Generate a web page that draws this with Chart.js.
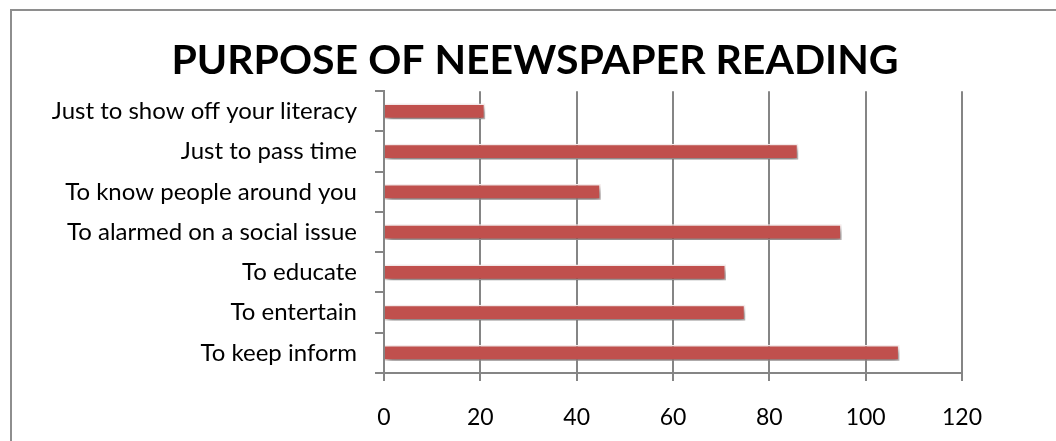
<!DOCTYPE html>
<html>
<head>
<meta charset="utf-8">
<script src="https://cdn.jsdelivr.net/npm/chart.js@4.4.1/dist/chart.umd.min.js"></script>
<style>
  body { margin: 0; background: #fff; }
  #wrap { position: relative; width: 1056px; height: 441px; overflow: hidden; }
  #frame { position: absolute; left: 10px; top: 9px; width: 1100px; height: 500px;
           border-left: 2px solid #8e8e8e; border-top: 2px solid #8e8e8e; }
  canvas { position: absolute; left: 0; top: 0; }
</style>
</head>
<body>
<div id="wrap">
  <div id="frame"></div>
  <canvas id="chart" width="1056" height="441"></canvas>
</div>
<script>
const purposes = [
  "Just to show off your literacy",
  "Just to pass time",
  "To know people around you",
  "To alarmed on a social issue",
  "To educate",
  "To entertain",
  "To keep inform"
];
const counts = [21, 86, 45, 95, 71, 75, 107];
const axisTicks = [0, 20, 40, 60, 80, 100, 120];

// soft drop shadow under the bars, like the office chart
const shadowPlugin = {
  id: "barShadow",
  beforeDatasetsDraw(chart) {
    const ctx = chart.ctx;
    ctx.save();
    ctx.shadowColor = "rgba(0, 0, 0, 0.5)";
    ctx.shadowBlur = 6;
    ctx.shadowOffsetX = 2;
    ctx.shadowOffsetY = 4;
  },
  afterDatasetsDraw(chart) {
    chart.ctx.restore();
  }
};

var ctx = document.getElementById("chart").getContext("2d");

new Chart(ctx, {
  type: "bar",
  data: {
    labels: purposes,
    datasets: [
      {
        label: "Purpose",
        data: counts,
        backgroundColor: "#C0504D",
        borderColor: "#fdf2f2",
        borderWidth: 1.5,
        barPercentage: 0.39,
        categoryPercentage: 1,
        yAxisID: "y",
      },
    ],
  },
  plugins: [shadowPlugin],
  options: {
    indexAxis: "y",
    responsive: false,
    animation: false,
    layout: {
      padding: { left: 14, right: 0, top: 0, bottom: 0 },
    },
    plugins: {
      legend: { display: false },
      tooltip: { enabled: false },
      title: {
        display: true,
        text: "PURPOSE OF NEEWSPAPER READING",
        color: "#000",
        font: { family: "Lato", size: 41, weight: "bold" },
        padding: { top: 36, bottom: 6 },
      },
    },
    scales: {
      x: {
        min: 0,
        max: 120,
        afterBuildTicks: (scale) => {
          scale.ticks = axisTicks.map((v) => ({ value: v }));
        },
        afterFit: (scale) => {
          scale.height = 68;
        },
        grid: {
          color: "#858585",
          lineWidth: 2,
          tickLength: 8,
        },
        border: { color: "#858585", width: 2 },
        ticks: {
          color: "#000",
          padding: 23,
          maxRotation: 0,
          font: { family: "Lato", size: 23 },
        },
      },
      y: {
        afterFit: (scale) => {
          scale.width = 370;
        },
        grid: {
          drawOnChartArea: false,
          color: "#858585",
          lineWidth: 2,
          tickLength: 9,
        },
        border: { color: "#858585", width: 2 },
        ticks: {
          color: "#000",
          padding: 18,
          font: { family: "Lato", size: 24 },
        },
      },
      // empty box on the right, keeps the plot ending at 120 where the reference does
      spacer: {
        type: "linear",
        position: "right",
        axis: "y",
        display: true,
        afterFit: (scale) => {
          scale.width = 94;
        },
        grid: { display: false, drawOnChartArea: false },
        border: { display: false },
        ticks: { display: false },
      },
    },
  },
});
</script>
</body>
</html>
